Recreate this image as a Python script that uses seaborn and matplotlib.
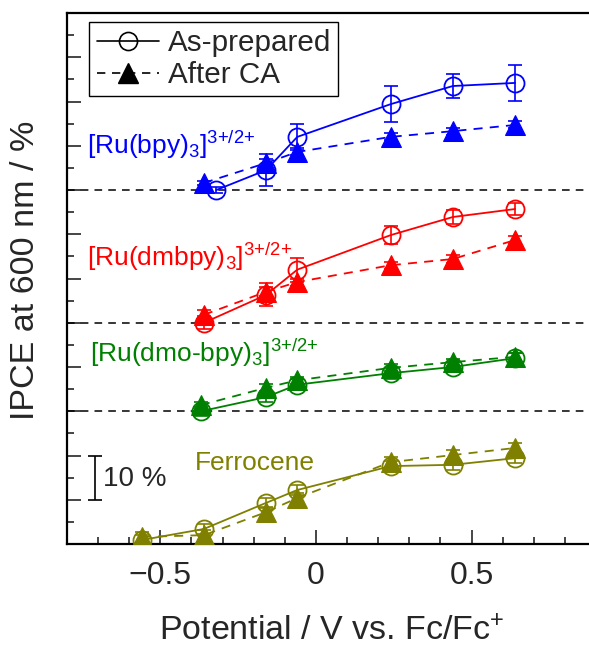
import numpy as np
import pandas as pd
import seaborn as sns
import matplotlib
matplotlib.use("Agg")
import matplotlib.pyplot as plt
from matplotlib.lines import Line2D
from matplotlib.ticker import MultipleLocator

sns.set_style("ticks")
plt.rcParams['font.family'] = ['Liberation Sans', 'DejaVu Sans']
plt.rcParams['mathtext.fontset'] = 'custom'
plt.rcParams['mathtext.rm'] = 'Liberation Sans'
plt.rcParams['mathtext.it'] = 'Liberation Sans:italic'
plt.rcParams['mathtext.bf'] = 'Liberation Sans:bold'

# ---- data (IPCE %, relative to each trace's baseline) ----
compounds = ["bpy", "dmbpy", "dmobpy", "Fc"]
labels = [r"[Ru(bpy)$_3$]$^{\text{3+/2+}}$",
          r"[Ru(dmbpy)$_3$]$^{\text{3+/2+}}$",
          r"[Ru(dmo-bpy)$_3$]$^{\text{3+/2+}}$",
          "Ferrocene"]
colors = ["#0000FF", "#FF0000", "#008000", "#808000"]
offsets = [80, 50, 30, 0]

bpy_x_prep = [-0.32, -0.16, -0.06, 0.24, 0.44, 0.64]
bpy_prep = [0.0, 4.5, 12.0, 19.4, 23.5, 24.2]
bpy_prep_err = [0.6, 3.7, 3.0, 4.0, 2.7, 4.0]
bpy_x_ca = [-0.36, -0.16, -0.06, 0.24, 0.44, 0.64]
bpy_ca = [1.6, 6.1, 8.6, 12.0, 13.3, 14.7]
bpy_ca_err = [0.5, 0.8, 0.8, 0.8, 0.8, 0.8]

dmbpy_x = [-0.36, -0.16, -0.06, 0.24, 0.44, 0.64]
dmbpy_prep = [0.0, 6.3, 12.0, 19.8, 23.9, 25.7]
dmbpy_prep_err = [1.5, 2.6, 2.7, 2.0, 1.5, 1.3]
dmbpy_ca = [1.8, 7.0, 9.2, 13.0, 14.4, 18.7]
dmbpy_ca_err = [1.0, 1.0, 0.8, 0.8, 0.8, 0.8]

dmobpy_x = [-0.37, -0.16, -0.06, 0.24, 0.44, 0.64]
dmobpy_prep = [0.0, 3.2, 6.0, 8.6, 10.0, 12.0]
dmobpy_prep_err = [1.0, 1.2, 1.2, 1.2, 1.2, 1.2]
dmobpy_ca = [1.4, 5.3, 7.0, 9.8, 11.1, 12.3]
dmobpy_ca_err = [0.8, 0.8, 0.8, 0.8, 0.8, 0.8]

fc_x = [-0.56, -0.36, -0.16, -0.06, 0.24, 0.44, 0.64]
fc_prep = [0.9, 3.4, 9.3, 12.2, 17.6, 17.9, 19.4]
fc_prep_err = [1.2, 1.2, 1.2, 1.2, 1.2, 1.2, 1.2]
fc_ca = [1.6, 2.0, 7.2, 10.4, 18.5, 20.1, 21.7]
fc_ca_err = [1.2, 1.2, 1.2, 1.2, 1.2, 1.2, 1.2]

series = {
    "bpy": (bpy_x_prep, bpy_prep, bpy_prep_err, bpy_x_ca, bpy_ca, bpy_ca_err),
    "dmbpy": (dmbpy_x, dmbpy_prep, dmbpy_prep_err, dmbpy_x, dmbpy_ca, dmbpy_ca_err),
    "dmobpy": (dmobpy_x, dmobpy_prep, dmobpy_prep_err, dmobpy_x, dmobpy_ca, dmobpy_ca_err),
    "Fc": (fc_x, fc_prep, fc_prep_err, fc_x, fc_ca, fc_ca_err),
}

label_pos = {"bpy": (-0.735, 90.2), "dmbpy": (-0.735, 64.9),
             "dmobpy": (-0.725, 43.2), "Fc": (-0.39, 18.3)}

fig = plt.figure(figsize=(5.89, 6.46), dpi=100)
ax = fig.add_axes([67/589, 102/646, 529/589, 531/646])

for c, lab, col, off in zip(compounds, labels, colors, offsets):
    xp, yp, ep, xc, yc, ec = series[c]
    dfp = pd.DataFrame({"x": xp, "y": np.array(yp) + off})
    dfc = pd.DataFrame({"x": xc, "y": np.array(yc) + off})
    ax.errorbar(dfp["x"], dfp["y"], yerr=ep, fmt="none", ecolor=col,
                elinewidth=1.2, capsize=5, capthick=1.2, zorder=2)
    sns.lineplot(data=dfp, x="x", y="y", ax=ax, color=col, sort=False,
                 estimator=None, lw=1.3, marker="o", markersize=13,
                 markerfacecolor="none", markeredgecolor=col,
                 markeredgewidth=1.3, zorder=3)
    ax.errorbar(dfc["x"], dfc["y"], yerr=ec, fmt="none", ecolor=col,
                elinewidth=1.2, capsize=5, capthick=1.2, zorder=2)
    sns.lineplot(data=dfc, x="x", y="y", ax=ax, color=col, sort=False,
                 estimator=None, lw=1.3, linestyle=(0, (5, 4)), marker="^",
                 markersize=14.5, markerfacecolor=col, markeredgecolor=col,
                 zorder=4)
    tx, ty = label_pos[c]
    ax.text(tx, ty, lab, color=col, fontsize=19, va="center", ha="left")

for b in [30, 50, 80]:
    ax.axhline(b, color="black", lw=1.1, ls=(0, (5, 4)), zorder=1)

# scale bar
ax.errorbar([-0.71], [15], yerr=[5], fmt="none", ecolor="black",
            elinewidth=1.2, capsize=5, capthick=1.2)
ax.text(-0.685, 14.8, "10 %", fontsize=20, va="center", ha="left")

ax.set_xlim(-0.8, 0.9)
ax.set_ylim(0, 120)
ax.xaxis.set_major_locator(MultipleLocator(0.5))
ax.xaxis.set_minor_locator(MultipleLocator(0.1))
ax.yaxis.set_major_locator(MultipleLocator(10))
ax.yaxis.set_minor_locator(MultipleLocator(5))
ax.set_xticks([-0.5, 0, 0.5])
ax.set_xticklabels(["\u22120.5", "0", "0.5"])
ax.tick_params(axis="y", which="both", labelleft=False)
ax.tick_params(which="major", direction="in", length=10, width=1.2,
               labelsize=23, pad=12)
ax.tick_params(which="minor", direction="in", length=5, width=1.2)
for s in ax.spines.values():
    s.set_linewidth(1.6)
    s.set_color("black")

ax.set_xlabel(r"Potential / V vs. Fc/Fc$^{+}$", fontsize=24.5)
ax.xaxis.set_label_coords(0.5, -0.135)
ax.set_ylabel("IPCE at 600 nm / %", fontsize=24.5)
ax.yaxis.set_label_coords(-0.05, 0.515)

handles = [Line2D([], [], color="black", lw=1.2, marker="o", markersize=13,
                  markerfacecolor="none", markeredgewidth=1.2),
           Line2D([], [], color="black", lw=1.2, ls=(0, (5, 4)), marker="^",
                  markersize=14.5)]
leg = ax.legend(handles, ["As-prepared", "After CA"], loc="upper left",
                bbox_to_anchor=(0.042, 0.983), borderaxespad=0, fontsize=21.3,
                frameon=True, fancybox=False, framealpha=1, edgecolor="black",
                handlelength=2.1, handletextpad=0.3, labelspacing=0.12,
                borderpad=0.25)
leg.get_frame().set_linewidth(1.0)

fig.savefig("out.png", dpi=100)
